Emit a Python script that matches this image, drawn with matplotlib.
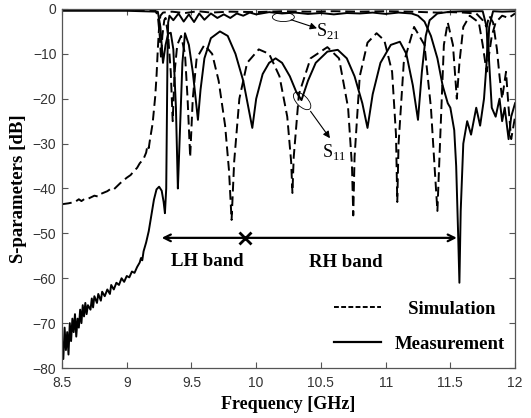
import matplotlib
matplotlib.use('Agg')
import matplotlib.pyplot as plt
from matplotlib.patches import Ellipse
from matplotlib.transforms import ScaledTranslation

plt.rcParams['mathtext.fontset'] = 'custom'
plt.rcParams['mathtext.rm'] = 'Liberation Serif'

# simulated S21 (dashed)
simS21_f = [8.50, 8.55, 8.60, 8.63, 8.65, 8.68, 8.70, 8.75, 8.78, 8.80, 8.85, 8.88, 8.90, 8.95, 9.00, 9.03,
            9.05, 9.08, 9.10, 9.13, 9.15, 9.16, 9.17, 9.18, 9.20, 9.21, 9.22, 9.23, 9.24, 9.25, 9.26, 9.28,
            9.35, 9.45, 9.55, 9.65, 9.80, 10.00, 10.20, 10.40, 10.60, 10.80, 11.00, 11.20, 11.40, 11.50,
            11.60, 11.70, 11.75, 11.78, 11.80, 11.83, 11.86, 11.88, 11.90, 11.93, 11.95, 11.97, 12.00]
simS21_db = [-43.5, -43.3, -43.0, -42.4, -42.8, -42.2, -42.3, -41.6, -41.8, -41.2, -40.6, -40.0, -40.2, -38.8, -37.6, -37.0,
             -36.3, -35.4, -34.4, -33.4, -32.0, -30.4, -31.0, -29.0, -25.5, -22.5, -19.5, -15.0, -9.0, -4.0, -1.5, -0.8,
             -0.6, -0.9, -0.5, -0.8, -0.6, -0.7, -0.5, -0.6, -0.5, -0.6, -0.5, -0.6, -0.8, -0.7,
             -0.8, -1.0, -2.5, -4.0, -1.5, -3.0, -9.0, -15.0, -20.0, -14.0, -22.0, -29.0, -24.0]

# simulated S11 (dashed)
simS11_f = [8.50, 9.00, 9.22, 9.24, 9.255, 9.265, 9.275, 9.29, 9.30, 9.32, 9.34, 9.355, 9.37, 9.39, 9.42, 9.45,
            9.47, 9.49, 9.51, 9.54, 9.60, 9.66, 9.71, 9.76, 9.79, 9.81, 9.83, 9.87, 9.93, 10.02, 10.10, 10.18,
            10.24, 10.27, 10.28, 10.29, 10.33, 10.42, 10.55, 10.64, 10.71, 10.74, 10.75, 10.76, 10.80, 10.86,
            10.93, 10.99, 11.05, 11.08, 11.09, 11.10, 11.14, 11.22, 11.30, 11.35, 11.38, 11.40, 11.42, 11.45,
            11.48, 11.52, 11.55, 11.57, 11.60, 11.65, 11.72, 11.75, 11.78, 11.82, 11.85, 11.90, 11.95, 12.00]
simS11_db = [-0.2, -0.2, -0.3, -1.5, -6.0, -11.0, -6.0, -2.5, -2.0, -6.0, -14.0, -25.0, -14.0, -8.0, -6.0, -10.0,
             -20.0, -33.0, -20.0, -11.0, -8.0, -10.0, -16.0, -26.0, -36.0, -47.0, -34.0, -20.0, -12.0, -9.0, -10.0, -15.0,
             -24.0, -34.0, -41.0, -33.0, -19.0, -11.0, -8.5, -11.0, -22.0, -35.0, -46.0, -33.0, -15.0, -7.5,
             -5.4, -7.0, -14.0, -28.0, -43.0, -30.0, -12.0, -4.0, -8.0, -22.0, -36.0, -45.0, -30.0, -8.0,
             -3.0, -8.0, -20.0, -12.0, -4.0, -1.5, -3.0, -8.0, -14.0, -6.0, -3.0, -1.5, -2.0, -1.0]

# measured S21 (solid)
measS21_f = [8.50, 8.51, 8.52, 8.53, 8.54, 8.55, 8.56, 8.57, 8.58, 8.59, 8.60, 8.61, 8.62, 8.63, 8.64, 8.65,
             8.66, 8.67, 8.68, 8.69, 8.70, 8.72, 8.73, 8.74, 8.75, 8.77, 8.78, 8.80, 8.81, 8.83, 8.85, 8.87,
             8.88, 8.90, 8.92, 8.94, 8.96, 8.98, 9.00, 9.02, 9.04, 9.06, 9.08, 9.10, 9.11, 9.12, 9.13, 9.15,
             9.17, 9.19, 9.21, 9.23, 9.25, 9.27, 9.285, 9.295, 9.305, 9.31, 9.315, 9.32, 9.33, 9.36, 9.40, 9.44,
             9.48, 9.52, 9.56, 9.60, 9.65, 9.70, 9.75, 9.80, 9.85, 9.90, 9.95, 10.00, 10.10, 10.20, 10.30, 10.40,
             10.50, 10.60, 10.70, 10.80, 10.90, 11.00, 11.10, 11.20, 11.25, 11.30, 11.35, 11.40, 11.44, 11.48,
             11.50, 11.53, 11.545, 11.56, 11.57, 11.58, 11.60, 11.63, 11.66, 11.70, 11.73, 11.76, 11.78, 11.79,
             11.80, 11.82, 11.85, 11.88, 11.90, 11.92, 11.95, 11.97, 12.00]
measS21_db = [-74.0, -78.0, -71.0, -76.0, -72.0, -77.0, -70.0, -74.0, -69.0, -72.0, -68.0, -73.0, -69.0, -71.0, -67.0, -70.0,
              -66.0, -68.5, -65.5, -68.0, -66.0, -67.0, -64.5, -66.5, -64.0, -65.5, -63.5, -65.0, -63.0, -64.0, -62.5, -63.5,
              -61.5, -62.5, -61.0, -61.5, -60.0, -60.8, -59.5, -59.8, -58.5, -58.8, -57.5, -56.5, -55.5, -56.0, -54.0, -52.0,
              -49.5, -46.0, -42.5, -40.2, -39.6, -40.5, -43.0, -45.5, -40.0, -25.0, -10.0, -3.0, -1.5, -2.5, -1.0, -2.8,
              -1.2, -2.9, -1.0, -2.4, -1.0, -2.0, -1.2, -2.0, -1.0, -1.5, -0.8, -1.2, -0.7, -1.0, -0.8, -1.1,
              -0.9, -1.2, -0.9, -1.0, -0.8, -1.1, -0.8, -1.0, -1.5, -2.8, -6.0, -11.0, -17.0, -21.0,
              -22.0, -27.0, -35.0, -50.0, -61.0, -45.0, -30.0, -25.0, -28.0, -22.0, -26.0, -20.0, -12.0, -6.0,
              -12.0, -22.0, -24.0, -20.0, -25.0, -22.0, -29.0, -24.0, -21.0]

# measured S11 (solid)
measS11_f = [8.50, 9.00, 9.24, 9.26, 9.28, 9.30, 9.32, 9.34, 9.36, 9.38, 9.395, 9.40, 9.41, 9.43, 9.45, 9.48,
             9.51, 9.54, 9.55, 9.57, 9.60, 9.65, 9.72, 9.78, 9.84, 9.90, 9.94, 9.97, 10.00, 10.05, 10.10, 10.15,
             10.20, 10.26, 10.31, 10.35, 10.40, 10.46, 10.55, 10.63, 10.70, 10.76, 10.82, 10.86, 10.90, 10.96,
             11.04, 11.11, 11.16, 11.21, 11.25, 11.28, 11.31, 11.34, 11.40, 11.50, 11.60, 11.75, 11.78, 11.79,
             11.80, 11.83, 11.90, 12.00]
measS11_db = [-0.4, -0.4, -0.6, -4.0, -12.0, -8.0, -5.5, -5.3, -9.0, -22.0, -40.0, -36.0, -28.0, -12.0, -5.4, -8.0,
              -14.0, -22.0, -24.7, -18.0, -11.0, -6.5, -5.0, -6.0, -10.0, -16.0, -22.0, -26.5, -20.0, -14.5, -12.0, -11.0,
              -12.0, -15.0, -18.5, -20.3, -16.0, -12.0, -9.5, -9.1, -11.0, -15.0, -21.0, -26.5, -19.0, -12.0,
              -8.0, -7.3, -10.0, -17.0, -24.7, -14.0, -6.0, -2.5, -1.0, -0.6, -0.5, -0.5, -4.0, -10.0,
              -4.0, -0.5, -0.6, -0.5]

xticks = [8.5, 9, 9.5, 10, 10.5, 11, 11.5, 12]
xticklabels = ['8.5', '9', '9.5', '10', '10.5', '11', '11.5', '12']
yticks = [0, -10, -20, -30, -40, -50, -60, -70, -80]

serif = 'Liberation Serif'
fig = plt.figure(figsize=(5.31, 4.18), dpi=100)
ax = fig.add_axes([0.1168, 0.1196, 0.8532, 0.8589])

dash = (5, 2.5)
ax.plot(simS21_f, simS21_db, color='black', lw=1.4, dashes=dash)
ax.plot(simS11_f, simS11_db, color='black', lw=1.4, dashes=dash)
ax.plot(measS21_f, measS21_db, color='black', lw=1.4)
ax.plot(measS11_f, measS11_db, color='black', lw=1.4)

ax.set_xlim(8.5, 12)
ax.set_ylim(-80, 0)
ax.set_xticks(xticks)
ax.set_xticklabels(xticklabels)
ax.set_yticks(yticks)
ax.tick_params(direction='in', top=True, right=True, length=4, width=0.8, color='#555555',
               labelsize=10, labelcolor='#333333')
ax.tick_params(axis='x', pad=6)
ax.tick_params(axis='y', pad=4)
for lab in ax.get_xticklabels() + ax.get_yticklabels():
    lab.set_family('Liberation Sans')
for sp in ax.spines.values():
    sp.set_color('#555555')
    sp.set_linewidth(0.9)

ax.set_xlabel('Frequency [GHz]', family=serif, weight='bold', fontsize=13, labelpad=4)
ax.set_ylabel('S-parameters [dB]', family=serif, weight='bold', fontsize=13.5, labelpad=4)

# band arrows
ax.annotate('', xy=(9.27, -51), xytext=(11.55, -51),
            arrowprops=dict(arrowstyle='<->', color='black', lw=1.6, mutation_scale=12, shrinkA=0, shrinkB=0))
ax.plot([9.91], [-51], marker='x', color='black', ms=8, mew=2)
ax.text(9.62, -56.2, 'LH band', family=serif, weight='bold', fontsize=13.5, ha='center', va='center')
ax.text(10.69, -56.4, 'RH band', family=serif, weight='bold', fontsize=13.5, ha='center', va='center')


def ring(fx, db, w, h, ang):
    # ellipse sized in inches, anchored at a data point
    tr = fig.dpi_scale_trans + ScaledTranslation(fx, db, ax.transData)
    ax.add_patch(Ellipse((0, 0), w, h, angle=ang, fill=False, lw=0.6, color='black', transform=tr))


# S21 / S11 callouts
ring(10.21, -1.8, 0.22, 0.09, 0)
ax.annotate('', xy=(10.47, -4.3), xytext=(10.27, -2.4),
            arrowprops=dict(arrowstyle='-|>', color='black', lw=0.8, mutation_scale=10, shrinkA=0, shrinkB=0))
ax.text(10.46, -4.8, r'S$_{\mathrm{21}}$', family=serif, fontsize=13, ha='left', va='center')
ring(10.355, -20.5, 0.22, 0.11, -45)
ax.annotate('', xy=(10.57, -28.8), xytext=(10.42, -22.8),
            arrowprops=dict(arrowstyle='-|>', color='black', lw=0.8, mutation_scale=10, shrinkA=0, shrinkB=0))
ax.text(10.60, -31.9, r'S$_{\mathrm{11}}$', family=serif, fontsize=13, ha='center', va='center')

# legend
h1, = ax.plot([], [], color='black', lw=1.4, dashes=(2.5, 1.2))
h2, = ax.plot([], [], color='black', lw=1.6)
ax.legend([h1, h2], ['   Simulation', 'Measurement'], loc='lower right', bbox_to_anchor=(1.014, -0.005),
          frameon=False, prop={'family': serif, 'weight': 'bold', 'size': 13.5},
          handlelength=2.5, handletextpad=0.7, labelspacing=0.95)

fig.savefig('out.png', dpi=100)
